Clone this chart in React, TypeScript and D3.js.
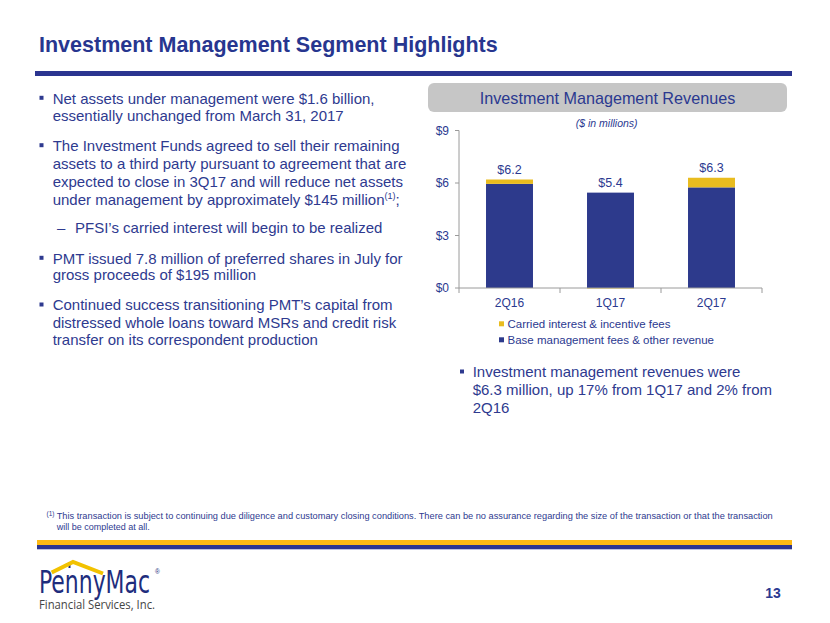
import React from "react";
import * as d3 from "d3";

const categories = ["2Q16", "1Q17", "2Q17"];
const baseFees = [5.95, 5.45, 5.75];
const carriedInterest = [0.25, -0.03, 0.55];
const yTicks = [0, 3, 6, 9];
const seriesNames = ["Carried interest & incentive fees", "Base management fees & other revenue"];

const leftBullets: { kind: "bullet" | "dash"; lines: string[] }[] = [
  { kind: "bullet", lines: ["Net assets under management were $1.6 billion,", "essentially unchanged from March 31, 2017"] },
  {
    kind: "bullet",
    lines: [
      "The Investment Funds agreed to sell their remaining",
      "assets to a third party pursuant to agreement that are",
      "expected to close in 3Q17 and will reduce net assets",
      "under management by approximately $145 million",
    ],
  },
  { kind: "dash", lines: ["PFSI\u2019s carried interest will begin to be realized"] },
  { kind: "bullet", lines: ["PMT issued 7.8 million of preferred shares in July for", "gross proceeds of $195 million"] },
  {
    kind: "bullet",
    lines: [
      "Continued success transitioning PMT\u2019s capital from",
      "distressed whole loans toward MSRs and credit risk",
      "transfer on its correspondent production",
    ],
  },
];
const leftLineY = [[98.3, 116], [145.7, 163.3, 181.7, 200], [227.7], [258.3, 275], [305, 322.7, 340]];

const rightBullet = ["Investment management revenues were", "$6.3 million, up 17% from 1Q17 and 2% from", "2Q16"];
const footnote1 = "This transaction is subject to continuing due diligence and customary closing conditions. There can be no assurance regarding the size of the transaction or that the transaction";
const footnote2 = "will be completed at all.";

const NAVY = "#2b3990";
const TEXT = "#2e3a8f";
const BAR_NAVY = "#2d3a8c";
const YELLOW = "#e9bc1f";
const FONT = "'Liberation Sans', Arial, sans-serif";

export default function App() {
  const x = d3.scaleBand<string>().domain(categories).range([459, 762]).paddingInner(0.535).paddingOuter(0.2675);
  const y = d3.scaleLinear().domain([0, 9]).range([288, 130.5]);

  const table = categories.map((c, i) => ({ cat: c, base: baseFees[i], carried: carriedInterest[i] }));
  const stack = d3
    .stack<any>()
    .keys(["base", "carried"])
    .offset(d3.stackOffsetDiverging);
  const stacked = stack(table);
  const colors: Record<string, string> = { base: BAR_NAVY, carried: YELLOW };

  const totals = categories.map((_, i) => baseFees[i] + carriedInterest[i]);
  const tops = categories.map((_, i) => baseFees[i] + Math.max(0, carriedInterest[i]));

  const step = x.step();
  const xTickPositions = d3.range(categories.length + 1).map((i) => 459 + i * step);

  return (
    <svg width={830} height={623} style={{ position: "absolute", left: 0, top: 0, background: "#fff" }} fontFamily={FONT}>
      <rect x={0} y={0} width={830} height={623} fill="#ffffff" />
      {/* Title */}
      <text x={39} y={52} fontSize={21.5} fontWeight="bold" fill="#27368f">
        Investment Management Segment Highlights
      </text>
      <rect x={35} y={71} width={757} height={5} fill="#2b3590" />

      {/* Left bullets */}
      {leftBullets.map((b, bi) =>
        b.lines.map((line, li) => {
          const cy = leftLineY[bi][li];
          const isLast = bi === 1 && li === b.lines.length - 1;
          return (
            <g key={`${bi}-${li}`}>
              {li === 0 && b.kind === "bullet" && <rect x={39.5} y={cy - 2.5} width={4} height={4} fill={TEXT} />}
              {li === 0 && b.kind === "dash" && (
                <text x={57} y={cy + 5.2} fontSize={15} fill={TEXT}>
                  {"\u2013"}
                </text>
              )}
              <text x={b.kind === "dash" ? 75 : 52.7} y={cy + 5.3} fontSize={15} fill={TEXT}>
                {line}
                {isLast && (
                  <>
                    <tspan fontSize={9} dy={-6}>
                      (1)
                    </tspan>
                    <tspan dy={6}>;</tspan>
                  </>
                )}
              </text>
            </g>
          );
        })
      )}

      {/* Chart header */}
      <rect x={428} y={83} width={359} height={29} rx={6} fill="#c6c6c6" />
      <text x={607.5} y={103.5} fontSize={16.2} fill={NAVY} textAnchor="middle">
        Investment Management Revenues
      </text>
      <text x={606.7} y={126.5} fontSize={10.5} fontStyle="italic" fill={NAVY} textAnchor="middle">
        ($ in millions)
      </text>

      {/* Bars */}
      {stacked.map((s) => (
        <g key={s.key} fill={colors[s.key]}>
          {s.map((d, i) => (
            <rect
              key={i}
              x={x(categories[i])!}
              y={y(Math.max(d[0], d[1]))}
              width={x.bandwidth()}
              height={Math.abs(y(d[0]) - y(d[1]))}
            />
          ))}
        </g>
      ))}

      {/* Axes */}
      <line x1={459} x2={459} y1={y(9)} y2={y(0)} stroke="#9a9a9a" strokeWidth={1} />
      {yTicks.map((t) => (
        <g key={t}>
          <line x1={455} x2={459} y1={y(t)} y2={y(t)} stroke="#9a9a9a" />
          <text x={449} y={y(t) + 4.3} fontSize={12} fill={NAVY} textAnchor="end">
            {`$${t}`}
          </text>
        </g>
      ))}
      <line x1={459} x2={762} y1={y(0)} y2={y(0)} stroke="#9a9a9a" strokeWidth={1} />
      {xTickPositions.map((p, i) => (
        <line key={i} x1={p} x2={p} y1={y(0)} y2={y(0) + 5} stroke="#9a9a9a" />
      ))}
      {categories.map((c) => (
        <text key={c} x={x(c)! + x.bandwidth() / 2} y={307} fontSize={12} fill={NAVY} textAnchor="middle">
          {c}
        </text>
      ))}
      {categories.map((c, i) => (
        <text key={c} x={x(c)! + x.bandwidth() / 2} y={y(tops[i]) - 5.5} fontSize={12.5} fill={NAVY} textAnchor="middle">
          {`$${totals[i].toFixed(1)}`}
        </text>
      ))}

      {/* Legend */}
      {seriesNames.map((n, i) => (
        <g key={n}>
          <rect x={499} y={321.3 + i * 16} width={5} height={5} fill={i === 0 ? YELLOW : BAR_NAVY} />
          <text x={507.5} y={327.7 + i * 16} fontSize={11.5} fill={NAVY}>
            {n}
          </text>
        </g>
      ))}

      {/* Right bullet */}
      <rect x={460} y={369.5} width={4} height={4} fill={TEXT} />
      {rightBullet.map((l, i) => (
        <text key={i} x={472.7} y={[372, 390, 407.7][i] + 5.3} fontSize={15} fill={TEXT}>
          {l}
        </text>
      ))}

      {/* Footnote */}
      <text x={46.5} y={516} fontSize={6.5} fill={TEXT}>
        (1)
      </text>
      <text x={56.7} y={519} fontSize={9.5} fill={TEXT} textLength={716} lengthAdjust="spacingAndGlyphs">
        {footnote1}
      </text>
      <text x={56.7} y={530} fontSize={9.5} fill={TEXT} textLength={93} lengthAdjust="spacingAndGlyphs">
        {footnote2}
      </text>

      {/* Bottom rules */}
      <rect x={37} y={540} width={755} height={5} fill="#fdb913" />
      <rect x={37} y={545} width={755} height={4.3} fill="#2b3590" />

      {/* Logo */}
      <line x1={69.5} x2={69.5} y1={562} y2={568} stroke="#1e2d7d" strokeWidth={2} />
      <polyline points="51.7,572.5 73,562 103,573.5" fill="none" stroke="#f2c200" strokeWidth={4} strokeLinejoin="miter" />
      <text x={39} y={593.3} fontSize={32} fill="#1e2d7d" fontFamily="'Liberation Sans Narrow', 'DejaVu Sans Condensed', sans-serif" textLength={111} lengthAdjust="spacingAndGlyphs">
        PennyMac
      </text>
      <text x={155} y={574} fontSize={6.5} fill="#1e2d7d">
        ®
      </text>
      <text x={39} y={609} fontSize={12} fill="#444" fontFamily="'Open Sans', sans-serif" textLength={116} lengthAdjust="spacingAndGlyphs">
        Financial Services, Inc.
      </text>

      {/* Page number */}
      <text x={773} y={597.5} fontSize={14} fontWeight="bold" fill={NAVY} textAnchor="middle">
        13
      </text>
    </svg>
  );
}
